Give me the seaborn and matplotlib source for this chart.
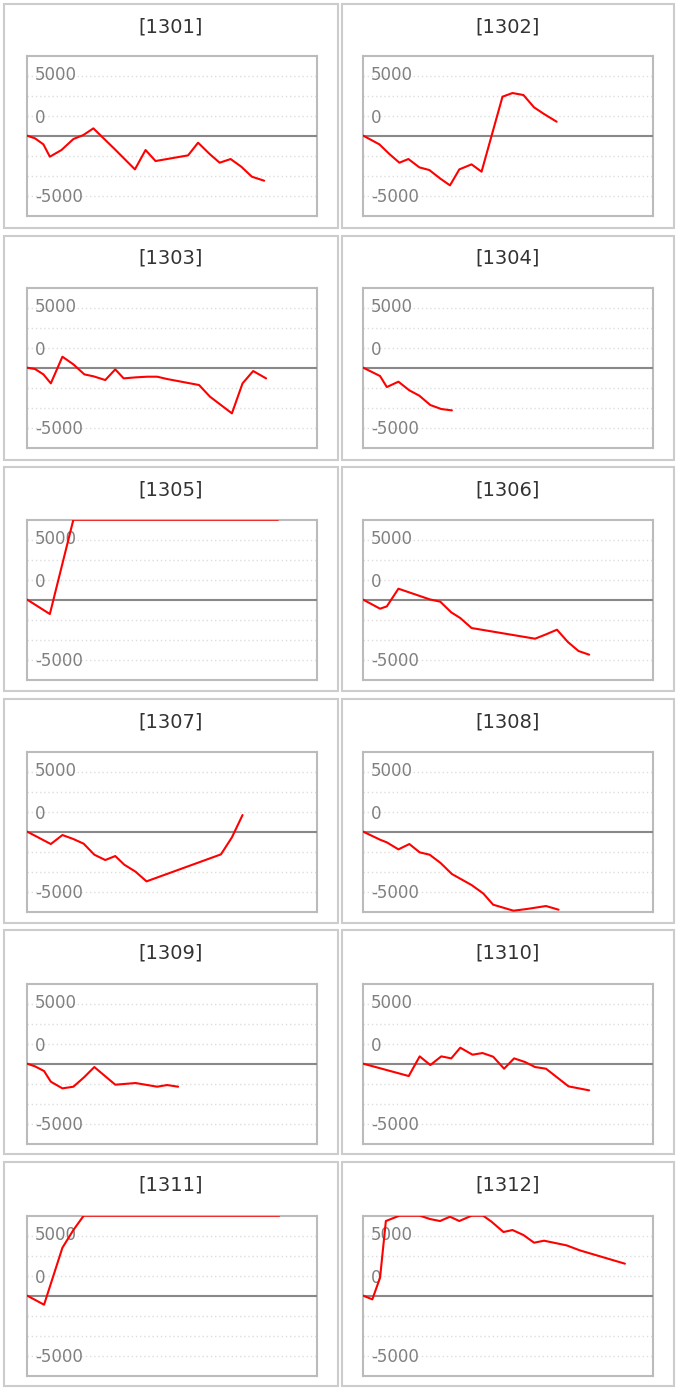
import matplotlib.pyplot as plt
from matplotlib.patches import Rectangle
import seaborn as sns
import pandas as pd

# --- data: cumulative P/L per code (x = day within the period, y = yen) ---
codes = ['1301', '1302', '1303', '1304', '1305', '1306',
         '1307', '1308', '1309', '1310', '1311', '1312']

x_1301 = [0, 2.4, 5.0, 7.0, 10.6, 14.3, 17.4, 20.5, 27.2, 33.4, 36.7, 39.8, 49.9, 53.0, 56.6, 59.7, 63.1, 66.4, 69.7, 73.5]
y_1301 = [0, -222, -722, -1750, -1194, -278, 56, 611, -1139, -2806, -1194, -2111, -1639, -583, -1528, -2250, -1945, -2583, -3417, -3750]

x_1302 = [0, 5.0, 8.1, 11.2, 14.0, 17.4, 20.5, 23.8, 26.9, 29.8, 33.6, 36.7, 43.2, 46.3, 49.7, 53.0, 56.1, 60.0]
y_1302 = [0, -722, -1528, -2250, -1945, -2639, -2861, -3556, -4139, -2806, -2389, -3000, 3250, 3556, 3389, 2361, 1806, 1167]

x_1303 = [0, 2.4, 5.0, 7.3, 10.9, 14.3, 17.7, 20.6, 24.2, 27.3, 29.9, 33.6, 37.2, 40.3, 43.4, 53.3, 56.7, 63.5, 66.8, 70.1, 74.1]
y_1303 = [0, -111, -556, -1306, 917, 278, -556, -722, -1028, -139, -889, -806, -750, -750, -944, -1444, -2417, -3806, -1306, -278, -889]

x_1304 = [0, 5.2, 7.3, 10.9, 14.3, 17.4, 20.8, 24.2, 27.5]
y_1304 = [0, -694, -1611, -1167, -1889, -2333, -3111, -3444, -3556]

x_1305 = [0, 7.0, 14.3, 77.8]
y_1305 = [0, -1194, 6667, 6667]

x_1306 = [0, 5.2, 7.3, 10.9, 20.6, 23.9, 27.3, 30.1, 33.6, 53.3, 56.7, 60.1, 63.5, 66.8, 70.1]
y_1306 = [0, -750, -556, 917, 28, -167, -1056, -1528, -2361, -3250, -2889, -2500, -3528, -4278, -4583]

x_1307 = [0, 7.3, 10.9, 14.3, 17.5, 20.8, 24.2, 27.3, 30.1, 33.6, 37.0, 60.1, 63.5, 66.8]
y_1307 = [0, -1028, -278, -611, -1000, -1917, -2361, -2028, -2750, -3333, -4139, -1889, -472, 1389]

x_1308 = [0, 5.2, 7.3, 10.9, 14.3, 17.5, 20.6, 24.0, 27.5, 33.6, 37.2, 40.3, 46.6, 50.7, 56.7, 60.6]
y_1308 = [0, -667, -889, -1472, -1028, -1722, -1917, -2611, -3528, -4444, -5139, -6083, -6583, -6444, -6194, -6500]

x_1309 = [0, 2.4, 5.2, 7.3, 10.9, 14.3, 17.7, 20.8, 27.3, 33.6, 40.3, 43.4, 46.8]
y_1309 = [0, -222, -611, -1500, -2056, -1917, -1111, -278, -1750, -1611, -1917, -1778, -1917]

x_1310 = [0, 14.1, 17.5, 20.8, 24.2, 27.3, 30.1, 33.9, 37.0, 40.3, 43.7, 46.8, 50.2, 53.3, 56.7, 63.7, 70.1]
y_1310 = [0, -1028, 611, -111, 611, 444, 1333, 750, 889, 583, -417, 444, 139, -278, -417, -1889, -2222]

x_1311 = [0, 5.2, 10.9, 14.3, 17.5, 78.2]
y_1311 = [0, -750, 4000, 5472, 6667, 6667]

x_1312 = [0, 2.8, 5.2, 7.0, 11.2, 17.6, 20.7, 23.8, 26.9, 29.8, 33.6, 37.2, 39.8, 43.5, 46.3, 49.7, 53.0, 56.1, 63.1, 67.2, 81.2]
y_1312 = [0, -306, 1500, 6222, 6667, 6667, 6389, 6222, 6583, 6222, 6667, 6667, 6167, 5306, 5472, 5056, 4417, 4583, 4194, 3778, 2667]

tick_text = ['5000', '0', '-5000']

series = {
    '1301': (x_1301, y_1301), '1302': (x_1302, y_1302), '1303': (x_1303, y_1303),
    '1304': (x_1304, y_1304), '1305': (x_1305, y_1305), '1306': (x_1306, y_1306),
    '1307': (x_1307, y_1307), '1308': (x_1308, y_1308), '1309': (x_1309, y_1309),
    '1310': (x_1310, y_1310), '1311': (x_1311, y_1311), '1312': (x_1312, y_1312),
}

# --- style ---
sns.set_style("white")
plt.rcParams['font.family'] = ['DejaVu Sans']

W, H = 680, 1390
fig = plt.figure(figsize=(W / 100, H / 100), dpi=100)

step = 5000 / 3
ylim = 4 * step
grid_levels = [k * step for k in (-3, -2, -1, 1, 2, 3)]
label_y = [5100, 1450, -5100]   # where the y labels sit (they float above the lines)

for i, code in enumerate(codes):
    row, col = divmod(i, 2)

    # outer box + title
    box_x = 4 if col == 0 else 341.7
    box_w = 333.7 if col == 0 else 332.6
    box_top = 4 + 231.6 * row
    fig.patches.append(Rectangle((box_x / W, 1 - (box_top + 224) / H), box_w / W, 224 / H,
                                 transform=fig.transFigure, fill=False,
                                 edgecolor='#cccccc', linewidth=1.5))
    fig.text((box_x + box_w / 2) / W, 1 - (box_top + 22.7) / H, f'[{code}]',
             ha='center', va='center', fontsize=14, color='#333333')

    # plot area
    ax_left = 27.3 if col == 0 else 363.3
    ax_top = 55.7 + 232 * row
    ax = fig.add_axes([ax_left / W, 1 - (ax_top + 160) / H, 290 / W, 160 / H])

    xs, ys = series[code]
    df = pd.DataFrame({'day': xs, 'pnl': ys})
    sns.lineplot(data=df, x='day', y='pnl', color='#ff0000', linewidth=1.5,
                 sort=False, ax=ax, zorder=4)
    ax.axhline(0, color='#888888', linewidth=1.5, zorder=3)

    ax.set_xlim(0, 90)
    ax.set_ylim(-ylim, ylim)
    ax.set_xticks([])
    ax.set_yticks(grid_levels)
    ax.grid(axis='y', linestyle=(0, (1, 2)), color='#dddddd', linewidth=1)
    ax.tick_params(left=False, labelleft=False, bottom=False, labelbottom=False)
    ax.set_xlabel('')
    ax.set_ylabel('')
    for sp in ax.spines.values():
        sp.set_color('#bbbbbb')
        sp.set_linewidth(1.5)

    for yv, txt in zip(label_y, tick_text):
        ax.text(0.027, yv, txt, transform=ax.get_yaxis_transform(),
                ha='left', va='center', fontsize=12, color='#808080')

fig.savefig('out.png', dpi=100)
